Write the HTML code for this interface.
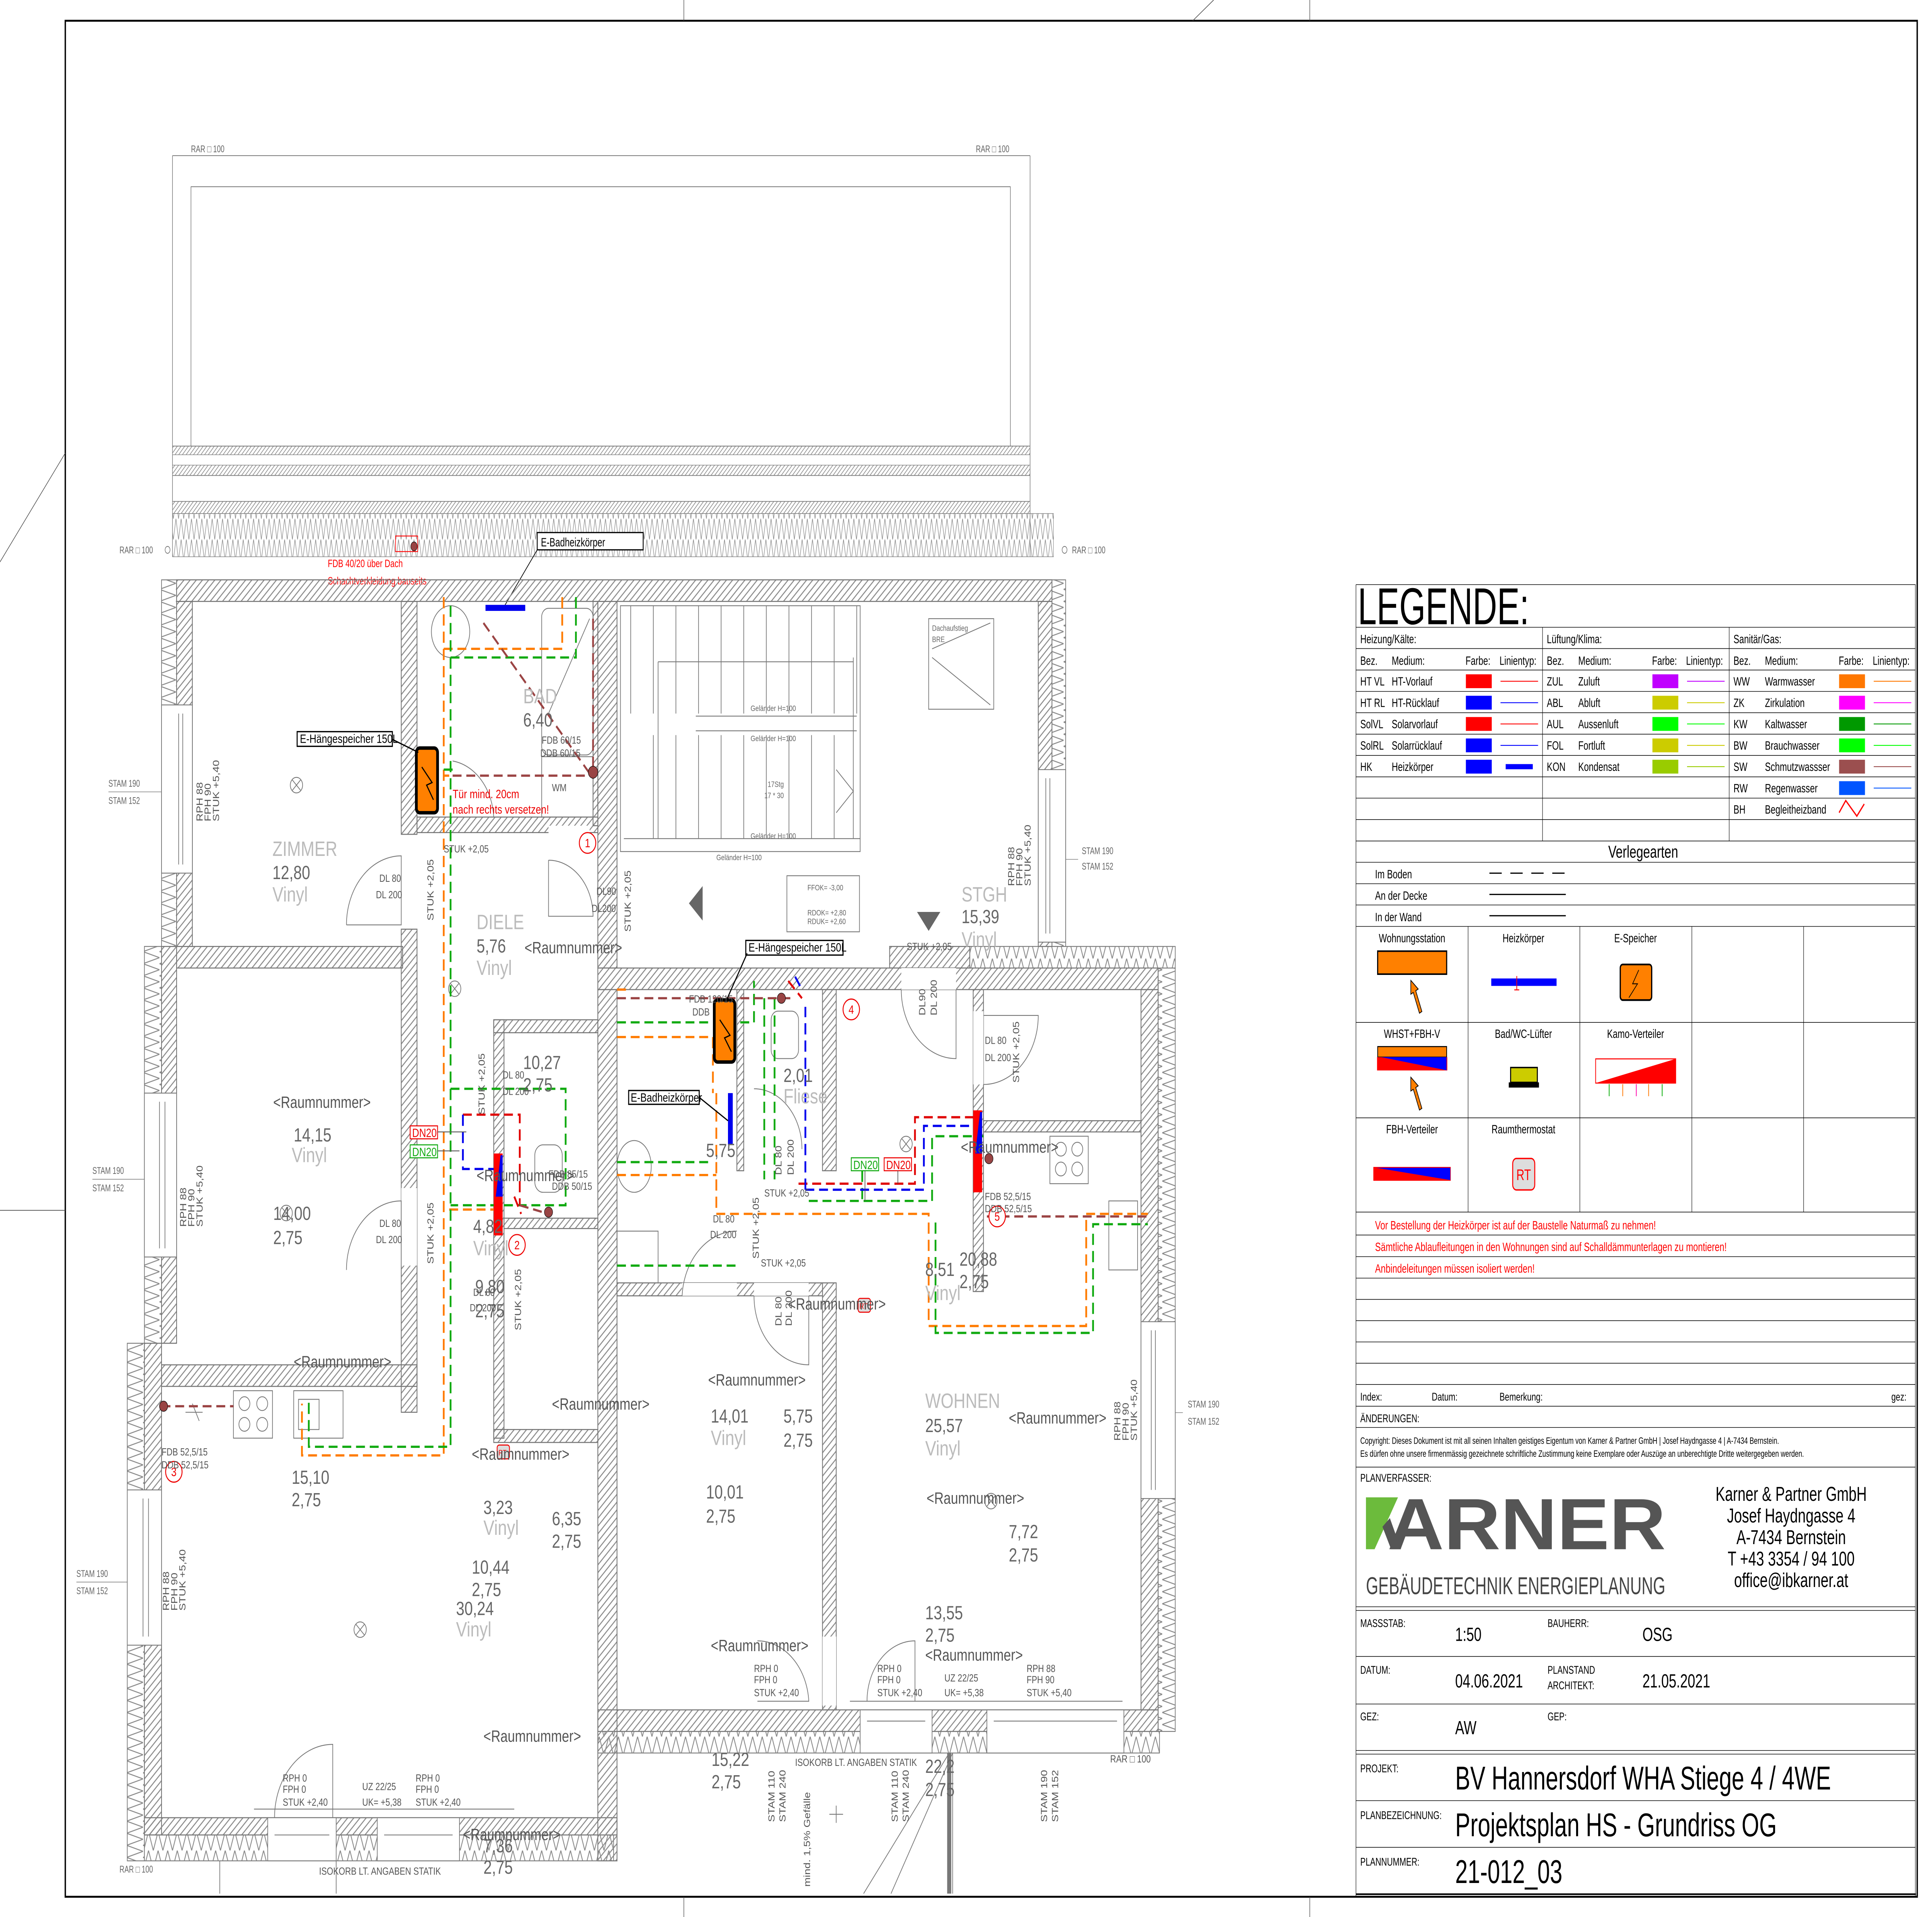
<!DOCTYPE html>
<html><head><meta charset="utf-8">
<style>
html,body{margin:0;padding:0;background:#fff;overflow:hidden;width:100vw;height:100vh;}
svg{display:block;width:100vw;height:100vh;}
text{font-family:"Liberation Sans",Arial,sans-serif;}
</style></head>
<body>
<svg xmlns="http://www.w3.org/2000/svg" viewBox="0 0 1568 1108.7" preserveAspectRatio="none">
<defs>
 <pattern id="h" patternUnits="userSpaceOnUse" width="9" height="9">
  <path d="M-2,11 L11,-2 M-2,2 L2,-2 M7,11 L11,7" stroke="#8a8a8a" stroke-width="1.3"/>
 </pattern>
 <pattern id="hp" patternUnits="userSpaceOnUse" width="3" height="3">
  <path d="M-1,4 L4,-1 M-1,1 L1,-1 M2,4 L4,2" stroke="#888" stroke-width="0.45"/>
 </pattern>
 <pattern id="zh" patternUnits="userSpaceOnUse" width="14" height="22">
  <path d="M0,0 L7,22 L14,0" fill="none" stroke="#8a8a8a" stroke-width="1.2"/>
 </pattern>
 <pattern id="zv" patternUnits="userSpaceOnUse" width="24" height="14">
  <path d="M0,0 L24,7 L0,14" fill="none" stroke="#8a8a8a" stroke-width="1.2"/>
 </pattern>
 <pattern id="zhp" patternUnits="userSpaceOnUse" width="4.2" height="12">
  <path d="M0,0 L2.1,12 L4.2,0" fill="none" stroke="#8a8a8a" stroke-width="0.4"/>
 </pattern>
</defs>
<rect width="1568" height="1108.7" fill="#fff"/>

<rect x="53" y="12" width="1503" height="1085" fill="none" stroke="#000" stroke-width="1.1"/>
<path d="M555,0V12 M1063,0V12 M555,1097V1109 M1063,1097V1109 M968,12 L985,0 M0,325 L53,262 M0,700 H53" stroke="#444" stroke-width="0.4" fill="none"/>

<g stroke="#666" stroke-width="0.4" fill="none">
 <path d="M140,90 H836 M140,90 V322 M836,90 V322"/>
 <rect x="155" y="108" width="665" height="150"/>
 <path d="M140,258 H836 M140,275 H836 M140,290 H836"/>
</g>
<rect x="140" y="258" width="696" height="5" fill="url(#hp)" stroke="#777" stroke-width="0.3"/>
<rect x="140" y="269" width="696" height="6" fill="url(#hp)" stroke="#777" stroke-width="0.3"/>
<rect x="140" y="290" width="696" height="7" fill="url(#hp)" stroke="#777" stroke-width="0.3"/>
<rect x="140" y="297" width="715" height="25" fill="url(#zhp)" stroke="#777" stroke-width="0.3"/>
<g font-size="5.5" fill="#666">
 <text x="155" y="88">RAR □ 100</text><text x="792" y="88">RAR □ 100</text>
 <text x="97" y="320">RAR □ 100</text><text x="870" y="320">RAR □ 100</text>
 <text x="97" y="1083">RAR □ 100</text>
 <text x="88" y="455">STAM 190</text><text x="88" y="465">STAM 152</text>
 <text x="75" y="679">STAM 190</text><text x="75" y="689">STAM 152</text>
 <text x="62" y="912">STAM 190</text><text x="62" y="922">STAM 152</text>
 <text x="878" y="494">STAM 190</text><text x="878" y="503">STAM 152</text>
 <text x="964" y="814">STAM 190</text><text x="964" y="824">STAM 152</text>
</g>
<circle cx="136" cy="318" r="2" fill="none" stroke="#666" stroke-width="0.4"/>
<circle cx="864" cy="318" r="2" fill="none" stroke="#666" stroke-width="0.4"/>
<path d="M88,458 H140 M75,682 H128 M62,915 H118 M875,497 H855 M960,817 H945" stroke="#666" stroke-width="0.3"/>
<rect x="321" y="310" width="18" height="9" fill="none" stroke="#f00" stroke-width="0.5"/>
<circle cx="336" cy="316" r="2.6" fill="#944" stroke="#000" stroke-width="0.3"/>
<text x="266" y="328" font-size="6.3" fill="#f00">FDB 40/20 über Dach</text>
<text x="266" y="338" font-size="6.3" fill="#f00">Schachtverkleidung bauseits</text>
<rect x="436" y="308" width="86" height="10" fill="#fff" stroke="#000" stroke-width="0.7"/>
<text x="439" y="316" font-size="7" fill="#000">E-Badheizkörper</text>
<path d="M436,318 L409,351" stroke="#000" stroke-width="0.5"/>

<g transform="translate(89.4,312.9) scale(0.5559,0.4989)">
 <g stroke="#777" stroke-width="1">
  <rect x="75" y="45" width="22" height="425" fill="url(#zv)"/>
  <rect x="50" y="470" width="25" height="460" fill="url(#zv)"/>
  <rect x="25" y="930" width="25" height="600" fill="url(#zv)"/>
  <rect x="50" y="1500" width="685" height="30" fill="url(#zh)"/>
  <rect x="712" y="1380" width="820" height="25" fill="url(#zh)"/>
  <rect x="1530" y="495" width="25" height="885" fill="url(#zv)"/>
  <rect x="1255" y="470" width="300" height="25" fill="url(#zh)"/>
  <rect x="1375" y="45" width="20" height="425" fill="url(#zv)"/>
 </g>
 <g fill="url(#h)" stroke="#777" stroke-width="1.2">
  <rect x="97" y="45" width="1278" height="25"/>
  <rect x="97" y="70" width="23" height="400"/>
  <rect x="75" y="470" width="22" height="460"/>
  <rect x="50" y="930" width="25" height="570"/>
  <rect x="50" y="1480" width="690" height="20"/>
  <rect x="712" y="1355" width="818" height="25"/>
  <rect x="1505" y="520" width="25" height="835"/>
  <rect x="1355" y="70" width="20" height="400"/>
  <rect x="712" y="495" width="818" height="25"/>
  <rect x="425" y="70" width="23" height="270"/>
  <rect x="425" y="450" width="23" height="560"/>
  <rect x="97" y="470" width="330" height="25"/>
  <rect x="75" y="955" width="373" height="25"/>
  <rect x="448" y="320" width="264" height="18"/>
  <rect x="705" y="70" width="7" height="260"/>
  <rect x="712" y="70" width="28" height="425"/>
  <rect x="712" y="520" width="28" height="1010"/>
  <rect x="560" y="555" width="15" height="485"/>
  <rect x="560" y="555" width="152" height="15"/>
  <rect x="575" y="785" width="137" height="12"/>
  <rect x="560" y="1030" width="152" height="15"/>
  <rect x="740" y="860" width="300" height="15"/>
  <rect x="1040" y="520" width="20" height="210"/>
  <rect x="1040" y="860" width="20" height="495"/>
  <rect x="915" y="520" width="10" height="210"/>
  <rect x="1260" y="520" width="15" height="350"/>
  <rect x="1275" y="672" width="230" height="13"/>
  <rect x="1138" y="470" width="117" height="25"/>
 </g>
 <g fill="#fff" stroke="#777" stroke-width="1">
  <rect x="75" y="190" width="45" height="195"/>
  <rect x="50" y="640" width="47" height="190"/>
  <rect x="25" y="1100" width="50" height="180"/>
  <rect x="1355" y="265" width="40" height="200"/>
  <rect x="1505" y="905" width="50" height="205"/>
  <rect x="230" y="1480" width="100" height="50"/>
  <rect x="390" y="1480" width="120" height="50"/>
  <rect x="1095" y="1355" width="105" height="50"/>
  <rect x="1280" y="1355" width="200" height="50"/>
 </g>
 <g stroke="#777" stroke-width="1" fill="none">
  <path d="M100,200V375 M106,200V375 M72,650V820 M80,650V820 M48,1110V1270 M56,1110V1270 M1366,275V455 M1372,275V455 M1520,915V1100 M1526,915V1100"/>
  <path d="M240,1500H320 M400,1500H500 M1105,1368H1190 M1290,1368H1470"/>
 </g>
 <g fill="#fff" stroke="none">
  <rect x="425" y="360" width="23" height="85"/>
  <rect x="425" y="750" width="23" height="90"/>
  <rect x="640" y="330" width="60" height="14"/>
  <rect x="1155" y="495" width="80" height="25"/>
  <rect x="1260" y="545" width="15" height="85"/>
  <rect x="940" y="860" width="80" height="15"/>
  <rect x="835" y="860" width="80" height="15"/>
  <rect x="1040" y="1270" width="20" height="80"/>
 </g>
 <g stroke="#777" stroke-width="1" fill="none">
  <path d="M345,445 A80,80 0 0 1 425,365 V445 H345"/>
  <path d="M345,845 A80,80 0 0 1 425,765 V845"/>
  <path d="M640,370 A65,65 0 0 1 705,435 H640 V370"/>
  <path d="M1155,520 A80,80 0 0 0 1235,600 V520"/>
  <path d="M1275,630 A80,80 0 0 0 1355,550 H1275"/>
  <path d="M940,875 A80,80 0 0 0 1020,955 V875"/>
  <path d="M835,875 A80,80 0 0 1 915,800"/>
  <path d="M945,1275 A75,75 0 0 1 1020,1345 H945"/>
  <path d="M1105,1345 A70,70 0 0 1 1175,1275 V1345"/>
  <path d="M240,1480 A85,85 0 0 1 325,1395 V1480"/>
  <path d="M500,255 A70,70 0 0 1 560,320"/>
  <path d="M940,635 A70,70 0 0 1 1010,705"/>
 </g>
 <g stroke="#777" stroke-width="1" fill="none">
  <rect x="745" y="75" width="350" height="285"/>
  <path d="M760,75V200 M793,75V200 M826,75V200 M859,75V200 M892,75V200 M925,75V200 M958,75V200 M991,75V200 M1024,75V200 M1057,75V200 M1090,75V200"/>
  <path d="M793,225V345 M826,225V345 M859,225V345 M892,225V345 M925,225V345 M958,225V345 M991,225V345 M1024,225V345 M1057,225V345"/>
  <path d="M855,203H1090 M855,220H1090 M750,345H1095 M800,140H1085 M800,140V345 M1060,265 L1085,290 L1060,315 M1085,135 V345"/>
  <rect x="1195" y="90" width="95" height="105"/>
  <path d="M1200,125 L1285,95 M1200,135 L1285,190"/>
  <rect x="988" y="388" width="106" height="65"/>
 </g>
 <g font-size="9" fill="#666">
  <text x="935" y="197">Geländer H=100</text><text x="935" y="232">Geländer H=100</text>
  <text x="935" y="345">Geländer H=100</text><text x="885" y="370">Geländer H=100</text>
  <text x="960" y="285">17Stg</text><text x="955" y="298">17 * 30</text>
  <text x="1018" y="405">FFOK= -3,00</text><text x="1018" y="434">RDOK= +2,80</text><text x="1018" y="444">RDUK= +2,60</text>
  <text x="1200" y="104">Dachaufstieg</text><text x="1200" y="117">BRE</text>
 </g>
 <path d="M845,420 L865,400 V440 Z" fill="#666"/>
 <path d="M1178,430 H1212 L1195,452 Z" fill="#666"/>
 <g stroke="#777" stroke-width="1" fill="none">
  <ellipse cx="497" cy="105" rx="28" ry="30"/>
  <rect x="630" y="78" width="75" height="170" rx="10"/>
  <path d="M640,200 L700,90"/>
  <rect x="630" y="250" width="75" height="70"/>
  <ellipse cx="765" cy="725" rx="25" ry="30"/>
  <rect x="740" y="800" width="60" height="60"/>
  <rect x="620" y="700" width="40" height="55" rx="12"/>
  <rect x="965" y="545" width="40" height="55" rx="10"/>
  <rect x="180" y="985" width="57" height="55"/><circle cx="196" cy="1000" r="8"/><circle cx="222" cy="1000" r="8"/><circle cx="196" cy="1024" r="8"/><circle cx="222" cy="1024" r="8"/>
  <rect x="268" y="985" width="72" height="55"/><rect x="275" y="995" width="30" height="35"/>
  <rect x="1372" y="690" width="56" height="55"/><circle cx="1388" cy="705" r="8"/><circle cx="1412" cy="705" r="8"/><circle cx="1388" cy="728" r="8"/><circle cx="1412" cy="728" r="8"/>
  <rect x="1458" y="765" width="42" height="80"/>
  <circle cx="272" cy="283" r="9"/><path d="M266,277 L278,289 M278,277 L266,289"/>
  <circle cx="503" cy="519" r="9"/><path d="M497,513 L509,525 M509,513 L497,525"/>
  <circle cx="257" cy="779" r="9"/><path d="M251,773 L263,785 M263,773 L251,785"/>
  <circle cx="365" cy="1262" r="9"/><path d="M359,1256 L371,1268 M371,1256 L359,1268"/>
  <circle cx="1162" cy="699" r="9"/><path d="M1156,693 L1168,705 M1168,693 L1156,705"/>
  <circle cx="1286" cy="1113" r="9"/><path d="M1280,1107 L1292,1119 M1292,1107 L1280,1119"/>
  <path d="M120,1000 L130,1020 M110,1010 H135"/>
  <path d="M210,1470 H590 M1080,1345 H1478 M1100,1568 L1225,1405 M1140,1568 L1230,1405 M1050,1476 H1070 M1060,1466 V1486"/>
  <path d="M160,1530 V1568 M330,1530V1568 M1230,1405 V1568"/>
 </g>
 <rect x="1222" y="1405" width="6" height="163" fill="#777"/>

 <g fill="none" stroke-width="2.6" stroke-dasharray="13,7">
  <path stroke="#ff7b00" d="M487,65 V1060 H280 V1000 M487,125 H660 V65 M487,272 H495 M495,775 H575 M740,575 H880 V640 M740,735 H885 M885,640 V780 H1195 V910 H1425 V780 H1515 M740,520 H760"/>
  <path stroke="#11aa11" d="M497,75 V1050 H290 V992 M497,135 H680 V65 M447,265 H500 M497,635 H665 V770 H497 M740,558 H940 V510 M740,720 H880 M740,840 H915 M1205,790 V918 H1435 V792 H1515 M1020,765 H1200 V690 H1275 M955,530 V740 M970,530 V740 M1098,730 V765"/>
  <path stroke="#e00000" d="M515,665 H598 V770 M1005,745 H1175 V668 H1262 M990,510 L1010,530 M590,760 L600,780"/>
  <path stroke="#0000ee" d="M515,665 V728 H560 M1015,752 H1188 V678 H1262 M1015,752 V540 M1000,505 L1010,520"/>
  <path stroke="#9b4444" d="M545,95 L705,275 M500,272 H705 M705,90 V265 M740,530 H1000 M1280,783 H1515 M75,1003 H180 M598,770 L640,780"/>
 </g>
 <g stroke="#000" stroke-width="0.6">
  <circle cx="705" cy="268" r="7" fill="#944"/>
  <circle cx="640" cy="778" r="6" fill="#944"/>
  <circle cx="1283" cy="716" r="6" fill="#944"/>
  <circle cx="78" cy="1003" r="6" fill="#944"/>
  <circle cx="980" cy="530" r="6" fill="#944"/>
 </g>
 <rect x="447" y="240" width="31" height="75" rx="5" fill="#ff8000" stroke="#000" stroke-width="4"/>
 <path d="M455,262 L470,280 L462,283 L472,300" stroke="#000" stroke-width="1.5" fill="none"/>
 <rect x="882" y="532" width="30" height="72" rx="5" fill="#ff8000" stroke="#000" stroke-width="4"/>
 <path d="M890,555 L905,573 L897,576 L907,592" stroke="#000" stroke-width="1.5" fill="none"/>
 <rect x="548" y="74" width="58" height="7" fill="#0000ee"/>
 <rect x="902" y="640" width="7" height="60" fill="#0000ee"/>
 <rect x="560" y="710" width="13" height="95" fill="#f00"/>
 <path d="M563,760 L570,712 L573,712 L573,760Z" fill="#0000ee"/>
 <rect x="1260" y="660" width="13" height="95" fill="#f00"/>
 <path d="M1263,710 L1270,662 L1273,662 L1273,710Z" fill="#0000ee"/>
 <g font-size="14" fill="#000">
  <rect x="273" y="221" width="139" height="17" fill="#fff" stroke="#000" stroke-width="1.5"/>
  <text x="277" y="234">E-Hängespeicher 150L</text>
  <rect x="928" y="463" width="142" height="17" fill="#fff" stroke="#000" stroke-width="1.5"/>
  <text x="932" y="476">E-Hängespeicher 150L</text>
  <rect x="757" y="637" width="103" height="16" fill="#fff" stroke="#000" stroke-width="1.5"/>
  <text x="760" y="650">E-Badheizkörper</text>
 </g>
 <path d="M412,230 L450,245 M930,478 L900,532 M860,645 L902,672" stroke="#000" stroke-width="1.5"/>
 <g font-size="14">
  <rect x="438" y="678" width="40" height="15" fill="#fff" stroke="#e00" stroke-width="1.2"/><text x="441" y="691" fill="#e00">DN20</text>
  <rect x="438" y="700" width="40" height="15" fill="#fff" stroke="#1a1" stroke-width="1.2"/><text x="441" y="713" fill="#1a1">DN20</text>
  <rect x="1082" y="715" width="40" height="15" fill="#fff" stroke="#1a1" stroke-width="1.2"/><text x="1085" y="728" fill="#1a1">DN20</text>
  <rect x="1130" y="715" width="40" height="15" fill="#fff" stroke="#e00" stroke-width="1.2"/><text x="1133" y="728" fill="#e00">DN20</text>
  <path d="M478,685 H520 M478,707 H510 M1102,730 V765 M1150,730 V745" stroke="#555" stroke-width="1"/>
 </g>
 <g fill="#fff" stroke="#e00" stroke-width="1.3">
  <circle cx="697" cy="350" r="12"/><circle cx="594" cy="816" r="12"/><circle cx="93" cy="1079" r="12"/><circle cx="1082" cy="543" r="12"/><circle cx="1295" cy="783" r="12"/>
 </g>
 <g font-size="14" fill="#e00" text-anchor="middle">
  <text x="697" y="355">1</text><text x="594" y="821">2</text><text x="93" y="1084">3</text><text x="1082" y="548">4</text><text x="1295" y="788">5</text>
 </g>
 <text x="500" y="298" font-size="14" fill="#e00">Tür mind. 20cm</text>
 <text x="500" y="316" font-size="14" fill="#e00">nach rechts versetzen!</text>
 <g fill="#ddd" stroke="#e00" stroke-width="1.2"><rect x="565" y="1048" width="18" height="16" rx="3"/><rect x="1092" y="878" width="18" height="16" rx="3"/></g>
 <g font-size="9" fill="#e00"><text x="567" y="1060">RT</text><text x="1094" y="890">RT</text></g>

 <g font-size="24" fill="#bbb">
  <text x="237" y="365">ZIMMER</text><text x="237" y="418">Vinyl</text>
  <text x="535" y="450">DIELE</text><text x="535" y="503">Vinyl</text>
  <text x="603" y="188">BAD</text><text x="1243" y="418">STGH</text><text x="1243" y="470">Vinyl</text>
  <text x="1190" y="1005">WOHNEN</text><text x="1190" y="1060">Vinyl</text>
  <text x="265" y="720">Vinyl</text><text x="530" y="828">Vinyl</text><text x="545" y="1152">Vinyl</text><text x="505" y="1270">Vinyl</text>
  <text x="877" y="1048">Vinyl</text><text x="1190" y="880">Vinyl</text><text x="983" y="652">Fliese</text>
 </g>
 <g font-size="22" fill="#666">
  <text x="237" y="392">12,80</text><text x="535" y="477">5,76</text><text x="603" y="215">6,40</text>
  <text x="268" y="696">14,15</text><text x="238" y="787">14,00</text><text x="238" y="815">2,75</text>
  <text x="603" y="612">10,27</text><text x="603" y="638">2,75</text><text x="530" y="802">4,82</text>
  <text x="533" y="872">9,80</text><text x="533" y="900">2,75</text>
  <text x="265" y="1093">15,10</text><text x="265" y="1119">2,75</text>
  <text x="545" y="1128">3,23</text><text x="645" y="1141">6,35</text><text x="645" y="1167">2,75</text>
  <text x="528" y="1197">10,44</text><text x="528" y="1223">2,75</text><text x="505" y="1245">30,24</text>
  <text x="877" y="1022">14,01</text><text x="983" y="1022">5,75</text><text x="983" y="1050">2,75</text>
  <text x="870" y="1110">10,01</text><text x="870" y="1138">2,75</text>
  <text x="1190" y="1033">25,57</text><text x="1312" y="1156">7,72</text><text x="1312" y="1183">2,75</text>
  <text x="1190" y="1250">13,55</text><text x="1190" y="1276">2,75</text>
  <text x="1243" y="443">15,39</text><text x="983" y="627">2,01</text><text x="870" y="714">5,75</text>
  <text x="1190" y="852">8,51</text><text x="1240" y="840">20,88</text><text x="1240" y="866">2,75</text>
  <text x="878" y="1420">15,22</text><text x="878" y="1446">2,75</text><text x="1190" y="1428">22,2</text><text x="1190" y="1455">2,75</text>
  <text x="545" y="1520">7,36</text><text x="545" y="1545">2,75</text>
 </g>
 <g font-size="19" fill="#555">
  <text x="605" y="478">&lt;Raumnummer&gt;</text><text x="238" y="657">&lt;Raumnummer&gt;</text>
  <text x="535" y="742">&lt;Raumnummer&gt;</text><text x="268" y="958">&lt;Raumnummer&gt;</text>
  <text x="645" y="1007">&lt;Raumnummer&gt;</text><text x="528" y="1065">&lt;Raumnummer&gt;</text>
  <text x="873" y="979">&lt;Raumnummer&gt;</text><text x="1312" y="1023">&lt;Raumnummer&gt;</text>
  <text x="1192" y="1116">&lt;Raumnummer&gt;</text><text x="877" y="1287">&lt;Raumnummer&gt;</text>
  <text x="1190" y="1298">&lt;Raumnummer&gt;</text><text x="545" y="1392">&lt;Raumnummer&gt;</text>
  <text x="515" y="1506">&lt;Raumnummer&gt;</text><text x="990" y="891">&lt;Raumnummer&gt;</text>
  <text x="1242" y="709">&lt;Raumnummer&gt;</text>
 </g>
 <g font-size="12" fill="#555">
  <text x="393" y="395">DL 80</text><text x="388" y="414">DL 200</text>
  <text x="393" y="795">DL 80</text><text x="388" y="814">DL 200</text>
  <text x="1277" y="583">DL 80</text><text x="1277" y="603">DL 200</text>
  <text x="573" y="623">DL 80</text><text x="573" y="642">DL 200</text>
  <text x="710" y="410">DL90</text><text x="703" y="430">DL200</text>
  <text x="880" y="790">DL 80</text><text x="876" y="808">DL 200</text>
  <text x="530" y="875">DL 80</text><text x="525" y="893">DL 200</text>
  <text x="487" y="361">STUK +2,05</text><text x="1163" y="474">STUK +2,05</text>
  <text x="955" y="760">STUK +2,05</text><text x="950" y="841">STUK +2,05</text>
  <text x="630" y="235">FDB 60/15</text><text x="628" y="250">DDB 60/15</text>
  <text x="640" y="738">FDB 85/15</text><text x="645" y="752">DDB 50/15</text>
  <text x="1277" y="764">FDB 52,5/15</text><text x="1277" y="778">DDB 52,5/15</text>
  <text x="75" y="1060">FDB 52,5/15</text><text x="75" y="1075">DDB 52,5/15</text>
  <text x="845" y="535">FDB 120/15</text><text x="850" y="550">DDB</text>
  <text x="645" y="290">WM</text>
  <text x="252" y="1438">RPH 0</text><text x="252" y="1451">FPH 0</text><text x="252" y="1466">STUK +2,40</text>
  <text x="446" y="1438">RPH 0</text><text x="446" y="1451">FPH 0</text><text x="446" y="1466">STUK +2,40</text>
  <text x="368" y="1448">UZ 22/25</text><text x="368" y="1466">UK= +5,38</text>
  <text x="940" y="1311">RPH 0</text><text x="940" y="1324">FPH 0</text><text x="940" y="1339">STUK +2,40</text>
  <text x="1120" y="1311">RPH 0</text><text x="1120" y="1324">FPH 0</text><text x="1120" y="1339">STUK +2,40</text>
  <text x="1218" y="1322">UZ 22/25</text><text x="1218" y="1339">UK= +5,38</text>
  <text x="1338" y="1311">RPH 88</text><text x="1338" y="1324">FPH 90</text><text x="1338" y="1339">STUK +5,40</text>
  <text x="1000" y="1420">ISOKORB LT. ANGABEN STATIK</text>
  <text x="305" y="1546">ISOKORB LT. ANGABEN STATIK</text>
  <text x="1460" y="1416">RAR □ 100</text>
 </g>
 <g font-size="13" fill="#555">
  <text transform="translate(135,325) rotate(-90)">RPH 88</text><text transform="translate(147,325) rotate(-90)">FPH 90</text><text transform="translate(159,325) rotate(-90)">STUK +5,40</text>
  <text transform="translate(111,795) rotate(-90)">RPH 88</text><text transform="translate(123,795) rotate(-90)">FPH 90</text><text transform="translate(135,795) rotate(-90)">STUK +5,40</text>
  <text transform="translate(86,1240) rotate(-90)">RPH 88</text><text transform="translate(98,1240) rotate(-90)">FPH 90</text><text transform="translate(110,1240) rotate(-90)">STUK +5,40</text>
  <text transform="translate(1320,400) rotate(-90)">RPH 88</text><text transform="translate(1332,400) rotate(-90)">FPH 90</text><text transform="translate(1344,400) rotate(-90)">STUK +5,40</text>
  <text transform="translate(1475,1043) rotate(-90)">RPH 88</text><text transform="translate(1487,1043) rotate(-90)">FPH 90</text><text transform="translate(1499,1043) rotate(-90)">STUK +5,40</text>
  <text transform="translate(472,440) rotate(-90)">STUK +2,05</text><text transform="translate(472,838) rotate(-90)">STUK +2,05</text>
  <text transform="translate(600,915) rotate(-90)">STUK +2,05</text><text transform="translate(547,665) rotate(-90)">STUK +2,05</text>
  <text transform="translate(760,453) rotate(-90)">STUK +2,05</text><text transform="translate(947,832) rotate(-90)">STUK +2,05</text>
  <text transform="translate(1327,628) rotate(-90)">STUK +2,05</text>
  <text transform="translate(980,910) rotate(-90)">DL 80</text><text transform="translate(995,910) rotate(-90)">DL 200</text>
  <text transform="translate(980,735) rotate(-90)">DL 80</text><text transform="translate(998,735) rotate(-90)">DL 200</text>
  <text transform="translate(1190,550) rotate(-90)">DL90</text><text transform="translate(1207,550) rotate(-90)">DL 200</text>
  <text transform="translate(970,1485) rotate(-90)">STAM 110</text><text transform="translate(986,1485) rotate(-90)">STAM 240</text>
  <text transform="translate(1150,1485) rotate(-90)">STAM 110</text><text transform="translate(1166,1485) rotate(-90)">STAM 240</text>
  <text transform="translate(1368,1485) rotate(-90)">STAM 190</text><text transform="translate(1384,1485) rotate(-90)">STAM 152</text>
  <text transform="translate(1022,1560) rotate(-90)">mind. 1,5% Gefälle</text>
 </g>
</g>

<g stroke="#000" stroke-width="0.35" fill="none">
 <path d="M1100.5,338.1 H1554.5 V1097 M1100.5,338.1 V1097"/>
 <path d="M1100.5,362.8H1554.5 M1100.5,375.1H1554.5 M1100.5,387.5H1554.5 M1100.5,399.9H1554.5 M1100.5,412.2H1554.5 M1100.5,424.6H1554.5 M1100.5,436.9H1554.5 M1100.5,449.3H1554.5 M1100.5,461.6H1554.5 M1100.5,474H1554.5 M1100.5,486.4H1554.5 M1100.5,498.7H1554.5 M1100.5,511.1H1554.5 M1100.5,523.4H1554.5 M1100.5,535.8H1554.5 M1100.5,591.3H1554.5 M1100.5,646.5H1554.5 M1100.5,701H1554.5"/>
 <path d="M1251.9,362.8V486.4 M1403.4,362.8V486.4"/>
 <path d="M1191.5,535.8V701 M1282.2,535.8V701 M1373.1,535.8V701 M1463.8,535.8V701"/>
 <path d="M1100.5,714.3H1554.5 M1100.5,726.8H1554.5 M1100.5,739.2H1554.5 M1100.5,751.5H1554.5 M1100.5,763.8H1554.5 M1100.5,776.1H1554.5 M1100.5,788.4H1554.5 M1100.5,800.7H1554.5 M1100.5,813.3H1554.5 M1100.5,825.6H1554.5 M1100.5,848.5H1554.5 M1100.5,929.3H1554.5 M1100.5,931.4H1554.5 M1100.5,958H1554.5 M1100.5,985.5H1554.5 M1100.5,1012.4H1554.5 M1100.5,1014.5H1554.5 M1100.5,1041.4H1554.5 M1100.5,1068.4H1554.5"/>
</g>
<path d="M1100.5,1095.5H1555" stroke="#000" stroke-width="0.9"/>
<text x="1102" y="361" font-size="30" textLength="139" lengthAdjust="spacingAndGlyphs" fill="#000">LEGENDE:</text>
<g font-size="7" fill="#000">
 <text x="1104" y="372">Heizung/Kälte:</text><text x="1255.4" y="372">Lüftung/Klima:</text><text x="1406.9" y="372">Sanitär/Gas:</text>
 <text x="1104" y="384.5">Bez.</text><text x="1129.5" y="384.5">Medium:</text><text x="1189.4" y="384.5">Farbe:</text><text x="1217" y="384.5">Linientyp:</text>
 <text x="1255.4" y="384.5">Bez.</text><text x="1280.9" y="384.5">Medium:</text><text x="1340.8" y="384.5">Farbe:</text><text x="1368.4" y="384.5">Linientyp:</text>
 <text x="1406.9" y="384.5">Bez.</text><text x="1432.4" y="384.5">Medium:</text><text x="1492.3" y="384.5">Farbe:</text><text x="1519.9" y="384.5">Linientyp:</text>
 <text x="1104" y="396.5">HT VL</text><text x="1129.5" y="396.5">HT-Vorlauf</text>
 <text x="1104" y="408.9">HT RL</text><text x="1129.5" y="408.9">HT-Rücklauf</text>
 <text x="1104" y="421.2">SolVL</text><text x="1129.5" y="421.2">Solarvorlauf</text>
 <text x="1104" y="433.6">SolRL</text><text x="1129.5" y="433.6">Solarrücklauf</text>
 <text x="1104" y="445.9">HK</text><text x="1129.5" y="445.9">Heizkörper</text>
 <text x="1255.4" y="396.5">ZUL</text><text x="1280.9" y="396.5">Zuluft</text>
 <text x="1255.4" y="408.9">ABL</text><text x="1280.9" y="408.9">Abluft</text>
 <text x="1255.4" y="421.2">AUL</text><text x="1280.9" y="421.2">Aussenluft</text>
 <text x="1255.4" y="433.6">FOL</text><text x="1280.9" y="433.6">Fortluft</text>
 <text x="1255.4" y="445.9">KON</text><text x="1280.9" y="445.9">Kondensat</text>
 <text x="1406.9" y="396.5">WW</text><text x="1432.4" y="396.5">Warmwasser</text>
 <text x="1406.9" y="408.9">ZK</text><text x="1432.4" y="408.9">Zirkulation</text>
 <text x="1406.9" y="421.2">KW</text><text x="1432.4" y="421.2">Kaltwasser</text>
 <text x="1406.9" y="433.6">BW</text><text x="1432.4" y="433.6">Brauchwasser</text>
 <text x="1406.9" y="445.9">SW</text><text x="1432.4" y="445.9">Schmutzwassser</text>
 <text x="1406.9" y="458.3">RW</text><text x="1432.4" y="458.3">Regenwasser</text>
 <text x="1406.9" y="470.6">BH</text><text x="1432.4" y="470.6">Begleitheizband</text>
</g>
<g>
 <rect x="1189.7" y="390" width="21" height="8" fill="#f00"/><rect x="1189.7" y="402.4" width="21" height="8" fill="#00f"/>
 <rect x="1189.7" y="414.7" width="21" height="8" fill="#f00"/><rect x="1189.7" y="427.1" width="21" height="8" fill="#00f"/>
 <rect x="1189.7" y="439.4" width="21" height="8" fill="#00f"/>
 <rect x="1341.1" y="390" width="21" height="8" fill="#c000ff"/><rect x="1341.1" y="402.4" width="21" height="8" fill="#cccc00"/>
 <rect x="1341.1" y="414.7" width="21" height="8" fill="#00ff00"/><rect x="1341.1" y="427.1" width="21" height="8" fill="#cccc00"/>
 <rect x="1341.1" y="439.4" width="21" height="8" fill="#99cc00"/>
 <rect x="1492.6" y="390" width="21" height="8" fill="#ff7700"/><rect x="1492.6" y="402.4" width="21" height="8" fill="#ff00ff"/>
 <rect x="1492.6" y="414.7" width="21" height="8" fill="#009900"/><rect x="1492.6" y="427.1" width="21" height="8" fill="#00ff00"/>
 <rect x="1492.6" y="439.4" width="21" height="8" fill="#9b4f4f"/><rect x="1492.6" y="451.8" width="21" height="8" fill="#0055ff"/>
 <path d="M1492.6,470 L1498,463 L1507,472 L1513,465" stroke="#f00" stroke-width="0.9" fill="none"/>
</g>
<g stroke-width="0.5">
 <path d="M1217.8,394H1248.3" stroke="#f00"/><path d="M1217.8,406.4H1248.3" stroke="#00f"/>
 <path d="M1217.8,418.7H1248.3" stroke="#f00"/><path d="M1217.8,431.1H1248.3" stroke="#00f"/>
 <path d="M1222,443.4H1244" stroke="#00f" stroke-width="3"/>
 <path d="M1369.2,394H1399.7" stroke="#c000ff"/><path d="M1369.2,406.4H1399.7" stroke="#cccc00"/>
 <path d="M1369.2,418.7H1399.7" stroke="#00ff00"/><path d="M1369.2,431.1H1399.7" stroke="#cccc00"/>
 <path d="M1369.2,443.4H1399.7" stroke="#99cc00"/>
 <path d="M1520.7,394H1551.2" stroke="#ff7700"/><path d="M1520.7,406.4H1551.2" stroke="#ff00ff"/>
 <path d="M1520.7,418.7H1551.2" stroke="#009900"/><path d="M1520.7,431.1H1551.2" stroke="#00ff00"/>
 <path d="M1520.7,443.4H1551.2" stroke="#9b4f4f"/><path d="M1520.7,455.8H1551.2" stroke="#0055ff"/>
</g>
<text x="1333.6" y="496" font-size="10" text-anchor="middle" fill="#000">Verlegearten</text>
<g font-size="7" fill="#000">
 <text x="1116" y="508">Im Boden</text><text x="1116" y="520.4">An der Decke</text><text x="1116" y="532.8">In der Wand</text>
</g>
<path d="M1208.8,505H1270.8" stroke="#000" stroke-width="0.7" stroke-dasharray="10,7"/>
<path d="M1208.8,517.3H1270.8 M1208.8,529.6H1270.8" stroke="#000" stroke-width="0.7"/>
<g font-size="7" fill="#000" text-anchor="middle">
 <text x="1146" y="545">Wohnungsstation</text><text x="1236.4" y="545">Heizkörper</text><text x="1327.4" y="545">E-Speicher</text>
 <text x="1146" y="600.3">WHST+FBH-V</text><text x="1236.4" y="600.3">Bad/WC-Lüfter</text><text x="1327.4" y="600.3">Kamo-Verteiler</text>
 <text x="1146" y="655.5">FBH-Verteiler</text><text x="1236.4" y="655.5">Raumthermostat</text>
</g>
<rect x="1118.1" y="550.1" width="56" height="13.3" fill="#ff8000" stroke="#000" stroke-width="0.9"/>
<path d="M1152,586 L1147,574 L1145,575 L1145,567 L1151,572 L1149,573 L1154,585 Z" fill="#ff8000" stroke="#000" stroke-width="0.5"/>
<rect x="1210.3" y="565.9" width="53" height="4.3" fill="#00f"/>
<path d="M1231,564.5V572.5 M1229,572.5H1233" stroke="#f00" stroke-width="0.6"/>
<rect x="1315" y="557.8" width="25.5" height="20.6" rx="2" fill="#ff8000" stroke="#000" stroke-width="1"/>
<path d="M1330,561 L1325,569 L1329,569 L1322,577" stroke="#000" stroke-width="0.5" fill="none"/>
<rect x="1118.1" y="605.3" width="56" height="6.1" fill="#ff8000" stroke="#000" stroke-width="0.6"/>
<rect x="1117.6" y="611.4" width="57" height="7.7" fill="#f00"/>
<path d="M1121,611.4 H1174 V619 Z" fill="#00f"/>
<path d="M1152,642 L1147,630 L1145,631 L1145,623 L1151,628 L1149,629 L1154,641 Z" fill="#ff8000" stroke="#000" stroke-width="0.5"/>
<rect x="1226" y="617.4" width="21.7" height="8.6" fill="#cccc00" stroke="#000" stroke-width="0.8"/>
<rect x="1224.5" y="626" width="24.5" height="3" fill="#000"/>
<rect x="1295" y="612.4" width="65" height="14" fill="#fff" stroke="#f00" stroke-width="0.6"/>
<path d="M1295,626.4 L1360,612.4 V626.4 Z" fill="#f00"/>
<path d="M1306,627V634 M1349,627V634" stroke-width="0.6" stroke="#0a0"/>
<path d="M1317,627V634" stroke="#f70" stroke-width="0.6"/><path d="M1328,627V634" stroke="#f0a" stroke-width="0.6"/><path d="M1338,627V634" stroke="#f70" stroke-width="0.6"/>
<rect x="1114.6" y="674.9" width="62.8" height="8" fill="#f00"/>
<path d="M1117,675.4 H1177 V682.5 Z" fill="#00f"/>
<rect x="1227.7" y="670" width="17.9" height="18.2" rx="3" fill="#ddd" stroke="#f00" stroke-width="0.8"/>
<text x="1236.6" y="682.5" font-size="9" fill="#f00" text-anchor="middle">RT</text>

<g font-size="7" fill="#f00">
 <text x="1116" y="711">Vor Bestellung der Heizkörper ist auf der Baustelle Naturmaß zu nehmen!</text>
 <text x="1116" y="723.5">Sämtliche Ablaufleitungen in den Wohnungen sind auf Schalldämmunterlagen zu montieren!</text>
 <text x="1116" y="736">Anbindeleitungen müssen isoliert werden!</text>
</g>
<g font-size="6.5" fill="#000">
 <text x="1104" y="810">Index:</text><text x="1162" y="810">Datum:</text><text x="1217" y="810">Bemerkung:</text><text x="1535" y="810">gez:</text>
 <text x="1104" y="822.5">ÄNDERUNGEN:</text>
 <text x="1104" y="857">PLANVERFASSER:</text>
 <text x="1104" y="941">MASSSTAB:</text><text x="1256" y="941">BAUHERR:</text>
 <text x="1104" y="968">DATUM:</text><text x="1256" y="968">PLANSTAND</text><text x="1256" y="977">ARCHITEKT:</text>
 <text x="1104" y="995">GEZ:</text><text x="1256" y="995">GEP:</text>
 <text x="1104" y="1025">PROJEKT:</text><text x="1104" y="1052">PLANBEZEICHNUNG:</text><text x="1104" y="1079">PLANNUMMER:</text>
</g>
<g font-size="5.3" fill="#000">
 <text x="1104" y="835">Copyright: Dieses Dokument ist mit all seinen Inhalten geistiges Eigentum von Karner &amp; Partner GmbH | Josef Haydngasse 4 | A-7434 Bernstein.</text>
 <text x="1104" y="842.5">Es dürfen ohne unsere firmenmässig gezeichnete schriftliche Zustimmung keine Exemplare oder Auszüge an unberechtigte Dritte weitergegeben werden.</text>
</g>
<path d="M1108.6,866 h7 l19,0 -19,30 h-7 z" fill="#6cbb3c"/>
<path d="M1122,883 l6,-5 9,18 h-8 z" fill="#555"/>
<text x="1126" y="896" font-size="42" font-weight="bold" fill="#555" textLength="226" lengthAdjust="spacingAndGlyphs">ARNER</text>
<text x="1108.6" y="922" font-size="14" fill="#444" textLength="243" lengthAdjust="spacingAndGlyphs">GEBÄUDETECHNIK ENERGIEPLANUNG</text>
<g font-size="11.5" fill="#000" text-anchor="middle">
 <text x="1453.7" y="868">Karner &amp; Partner GmbH</text>
 <text x="1453.7" y="880.5">Josef Haydngasse 4</text>
 <text x="1453.7" y="893">A-7434 Bernstein</text>
 <text x="1453.7" y="905.4">T +43 3354 / 94 100</text>
 <text x="1453.7" y="917.8">office@ibkarner.at</text>
</g>
<g font-size="11" fill="#000">
 <text x="1181" y="949">1:50</text><text x="1333" y="949">OSG</text>
 <text x="1181" y="976">04.06.2021</text><text x="1333" y="976">21.05.2021</text>
 <text x="1181" y="1003">AW</text>
</g>
<text x="1181" y="1035" font-size="19" fill="#000" textLength="305" lengthAdjust="spacingAndGlyphs">BV Hannersdorf WHA Stiege 4 / 4WE</text>
<text x="1181" y="1062" font-size="19" fill="#000" textLength="261" lengthAdjust="spacingAndGlyphs">Projektsplan HS - Grundriss OG</text>
<text x="1181" y="1089" font-size="19" fill="#000" textLength="87" lengthAdjust="spacingAndGlyphs">21-012_03</text>
</svg>
</body></html>
